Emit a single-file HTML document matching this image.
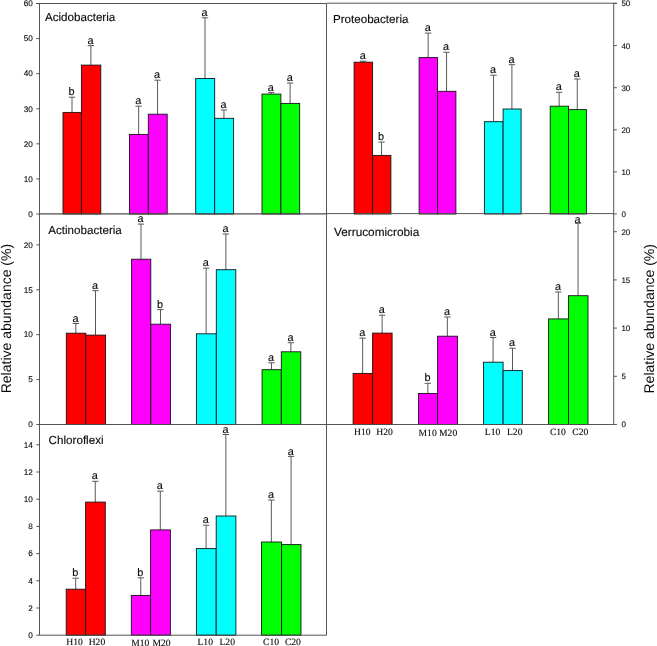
<!DOCTYPE html>
<html><head><meta charset="utf-8"><title>Relative abundance</title>
<style>
html,body{margin:0;padding:0;background:#fff;}
body{width:657px;height:646px;overflow:hidden;}
svg{display:block;will-change:transform;}
text{text-rendering:geometricPrecision;}
text.s{font-family:"Liberation Sans",sans-serif;fill:#0a0a0a;stroke:#0a0a0a;stroke-width:0.12px;}
text.r{font-family:"Liberation Serif",serif;fill:#0a0a0a;stroke:#0a0a0a;stroke-width:0.12px;}
</style></head><body>
<svg width="657" height="646" viewBox="0 0 657 646">
<rect width="657" height="646" fill="#ffffff"/>
<line x1="72.00" y1="112.40" x2="72.00" y2="97.20" stroke="#505050" stroke-width="0.95"/>
<line x1="68.80" y1="97.20" x2="75.20" y2="97.20" stroke="#505050" stroke-width="0.95"/>
<rect x="63.00" y="112.40" width="18.40" height="101.60" fill="#ff0000" stroke="#141014" stroke-width="0.88"/>
<text class="s" x="71.60" y="95.30" font-size="10.9" text-anchor="middle">b</text>
<line x1="90.90" y1="65.10" x2="90.90" y2="45.60" stroke="#505050" stroke-width="0.95"/>
<line x1="87.70" y1="45.60" x2="94.10" y2="45.60" stroke="#505050" stroke-width="0.95"/>
<rect x="81.40" y="65.10" width="19.40" height="148.90" fill="#ff0000" stroke="#141014" stroke-width="0.88"/>
<text class="s" x="90.50" y="43.70" font-size="10.9" text-anchor="middle">a</text>
<line x1="138.65" y1="134.40" x2="138.65" y2="106.20" stroke="#505050" stroke-width="0.95"/>
<line x1="135.45" y1="106.20" x2="141.85" y2="106.20" stroke="#505050" stroke-width="0.95"/>
<rect x="129.40" y="134.40" width="18.90" height="79.60" fill="#ff00ff" stroke="#141014" stroke-width="0.88"/>
<text class="s" x="138.25" y="104.30" font-size="10.9" text-anchor="middle">a</text>
<line x1="157.55" y1="114.20" x2="157.55" y2="80.20" stroke="#505050" stroke-width="0.95"/>
<line x1="154.35" y1="80.20" x2="160.75" y2="80.20" stroke="#505050" stroke-width="0.95"/>
<rect x="148.30" y="114.20" width="18.90" height="99.80" fill="#ff00ff" stroke="#141014" stroke-width="0.88"/>
<text class="s" x="157.15" y="78.30" font-size="10.9" text-anchor="middle">a</text>
<line x1="205.00" y1="78.50" x2="205.00" y2="17.80" stroke="#505050" stroke-width="0.95"/>
<line x1="201.80" y1="17.80" x2="208.20" y2="17.80" stroke="#505050" stroke-width="0.95"/>
<rect x="195.70" y="78.50" width="19.00" height="135.50" fill="#00ffff" stroke="#141014" stroke-width="0.88"/>
<text class="s" x="204.60" y="15.90" font-size="10.9" text-anchor="middle">a</text>
<line x1="223.95" y1="118.30" x2="223.95" y2="110.00" stroke="#505050" stroke-width="0.95"/>
<line x1="220.75" y1="110.00" x2="227.15" y2="110.00" stroke="#505050" stroke-width="0.95"/>
<rect x="214.70" y="118.30" width="18.90" height="95.70" fill="#00ffff" stroke="#141014" stroke-width="0.88"/>
<text class="s" x="223.55" y="108.10" font-size="10.9" text-anchor="middle">a</text>
<line x1="271.25" y1="94.10" x2="271.25" y2="92.60" stroke="#505050" stroke-width="0.95"/>
<line x1="268.05" y1="92.60" x2="274.45" y2="92.60" stroke="#505050" stroke-width="0.95"/>
<rect x="262.00" y="94.10" width="18.90" height="119.90" fill="#00ff00" stroke="#141014" stroke-width="0.88"/>
<text class="s" x="270.85" y="90.70" font-size="10.9" text-anchor="middle">a</text>
<line x1="290.10" y1="103.40" x2="290.10" y2="83.00" stroke="#505050" stroke-width="0.95"/>
<line x1="286.90" y1="83.00" x2="293.30" y2="83.00" stroke="#505050" stroke-width="0.95"/>
<rect x="280.90" y="103.40" width="18.80" height="110.60" fill="#00ff00" stroke="#141014" stroke-width="0.88"/>
<text class="s" x="289.70" y="81.10" font-size="10.9" text-anchor="middle">a</text>
<line x1="363.15" y1="62.20" x2="363.15" y2="61.20" stroke="#505050" stroke-width="0.95"/>
<line x1="359.95" y1="61.20" x2="366.35" y2="61.20" stroke="#505050" stroke-width="0.95"/>
<rect x="354.10" y="62.20" width="18.50" height="151.80" fill="#ff0000" stroke="#141014" stroke-width="0.88"/>
<text class="s" x="362.75" y="59.30" font-size="10.9" text-anchor="middle">a</text>
<line x1="381.55" y1="155.40" x2="381.55" y2="142.10" stroke="#505050" stroke-width="0.95"/>
<line x1="378.35" y1="142.10" x2="384.75" y2="142.10" stroke="#505050" stroke-width="0.95"/>
<rect x="372.60" y="155.40" width="18.30" height="58.60" fill="#ff0000" stroke="#141014" stroke-width="0.88"/>
<text class="s" x="381.15" y="140.20" font-size="10.9" text-anchor="middle">b</text>
<line x1="428.15" y1="57.60" x2="428.15" y2="33.10" stroke="#505050" stroke-width="0.95"/>
<line x1="424.95" y1="33.10" x2="431.35" y2="33.10" stroke="#505050" stroke-width="0.95"/>
<rect x="419.10" y="57.60" width="18.50" height="156.40" fill="#ff00ff" stroke="#141014" stroke-width="0.88"/>
<text class="s" x="427.75" y="31.20" font-size="10.9" text-anchor="middle">a</text>
<line x1="446.55" y1="91.30" x2="446.55" y2="52.30" stroke="#505050" stroke-width="0.95"/>
<line x1="443.35" y1="52.30" x2="449.75" y2="52.30" stroke="#505050" stroke-width="0.95"/>
<rect x="437.60" y="91.30" width="18.30" height="122.70" fill="#ff00ff" stroke="#141014" stroke-width="0.88"/>
<text class="s" x="446.15" y="50.40" font-size="10.9" text-anchor="middle">a</text>
<line x1="493.55" y1="121.70" x2="493.55" y2="75.20" stroke="#505050" stroke-width="0.95"/>
<line x1="490.35" y1="75.20" x2="496.75" y2="75.20" stroke="#505050" stroke-width="0.95"/>
<rect x="484.40" y="121.70" width="18.70" height="92.30" fill="#00ffff" stroke="#141014" stroke-width="0.88"/>
<text class="s" x="493.15" y="73.30" font-size="10.9" text-anchor="middle">a</text>
<line x1="511.90" y1="109.00" x2="511.90" y2="64.70" stroke="#505050" stroke-width="0.95"/>
<line x1="508.70" y1="64.70" x2="515.10" y2="64.70" stroke="#505050" stroke-width="0.95"/>
<rect x="503.10" y="109.00" width="18.00" height="105.00" fill="#00ffff" stroke="#141014" stroke-width="0.88"/>
<text class="s" x="511.50" y="62.80" font-size="10.9" text-anchor="middle">a</text>
<line x1="559.15" y1="106.20" x2="559.15" y2="92.30" stroke="#505050" stroke-width="0.95"/>
<line x1="555.95" y1="92.30" x2="562.35" y2="92.30" stroke="#505050" stroke-width="0.95"/>
<rect x="550.20" y="106.20" width="18.30" height="107.80" fill="#00ff00" stroke="#141014" stroke-width="0.88"/>
<text class="s" x="558.75" y="90.40" font-size="10.9" text-anchor="middle">a</text>
<line x1="577.25" y1="109.60" x2="577.25" y2="79.00" stroke="#505050" stroke-width="0.95"/>
<line x1="574.05" y1="79.00" x2="580.45" y2="79.00" stroke="#505050" stroke-width="0.95"/>
<rect x="568.50" y="109.60" width="17.90" height="104.40" fill="#00ff00" stroke="#141014" stroke-width="0.88"/>
<text class="s" x="576.85" y="77.10" font-size="10.9" text-anchor="middle">a</text>
<line x1="75.85" y1="333.20" x2="75.85" y2="323.50" stroke="#505050" stroke-width="0.95"/>
<line x1="72.65" y1="323.50" x2="79.05" y2="323.50" stroke="#505050" stroke-width="0.95"/>
<rect x="66.30" y="333.20" width="19.50" height="91.30" fill="#ff0000" stroke="#141014" stroke-width="0.88"/>
<text class="s" x="75.45" y="321.60" font-size="10.9" text-anchor="middle">a</text>
<line x1="95.50" y1="335.10" x2="95.50" y2="290.70" stroke="#505050" stroke-width="0.95"/>
<line x1="92.30" y1="290.70" x2="98.70" y2="290.70" stroke="#505050" stroke-width="0.95"/>
<rect x="85.80" y="335.10" width="19.80" height="89.40" fill="#ff0000" stroke="#141014" stroke-width="0.88"/>
<text class="s" x="95.10" y="288.80" font-size="10.9" text-anchor="middle">a</text>
<line x1="141.00" y1="259.20" x2="141.00" y2="224.10" stroke="#505050" stroke-width="0.95"/>
<line x1="137.80" y1="224.10" x2="144.20" y2="224.10" stroke="#505050" stroke-width="0.95"/>
<rect x="131.60" y="259.20" width="19.20" height="165.30" fill="#ff00ff" stroke="#141014" stroke-width="0.88"/>
<text class="s" x="140.60" y="222.20" font-size="10.9" text-anchor="middle">a</text>
<line x1="160.50" y1="324.20" x2="160.50" y2="309.60" stroke="#505050" stroke-width="0.95"/>
<line x1="157.30" y1="309.60" x2="163.70" y2="309.60" stroke="#505050" stroke-width="0.95"/>
<rect x="150.80" y="324.20" width="19.80" height="100.30" fill="#ff00ff" stroke="#141014" stroke-width="0.88"/>
<text class="s" x="160.10" y="307.70" font-size="10.9" text-anchor="middle">b</text>
<line x1="206.15" y1="333.80" x2="206.15" y2="268.10" stroke="#505050" stroke-width="0.95"/>
<line x1="202.95" y1="268.10" x2="209.35" y2="268.10" stroke="#505050" stroke-width="0.95"/>
<rect x="196.40" y="333.80" width="19.90" height="90.70" fill="#00ffff" stroke="#141014" stroke-width="0.88"/>
<text class="s" x="205.75" y="266.20" font-size="10.9" text-anchor="middle">a</text>
<line x1="225.85" y1="269.70" x2="225.85" y2="234.00" stroke="#505050" stroke-width="0.95"/>
<line x1="222.65" y1="234.00" x2="229.05" y2="234.00" stroke="#505050" stroke-width="0.95"/>
<rect x="216.30" y="269.70" width="19.50" height="154.80" fill="#00ffff" stroke="#141014" stroke-width="0.88"/>
<text class="s" x="225.45" y="232.10" font-size="10.9" text-anchor="middle">a</text>
<line x1="271.50" y1="369.70" x2="271.50" y2="362.80" stroke="#505050" stroke-width="0.95"/>
<line x1="268.30" y1="362.80" x2="274.70" y2="362.80" stroke="#505050" stroke-width="0.95"/>
<rect x="262.10" y="369.70" width="19.20" height="54.80" fill="#00ff00" stroke="#141014" stroke-width="0.88"/>
<text class="s" x="271.10" y="360.90" font-size="10.9" text-anchor="middle">a</text>
<line x1="290.85" y1="351.80" x2="290.85" y2="342.70" stroke="#505050" stroke-width="0.95"/>
<line x1="287.65" y1="342.70" x2="294.05" y2="342.70" stroke="#505050" stroke-width="0.95"/>
<rect x="281.30" y="351.80" width="19.50" height="72.70" fill="#00ff00" stroke="#141014" stroke-width="0.88"/>
<text class="s" x="290.45" y="340.80" font-size="10.9" text-anchor="middle">a</text>
<line x1="362.65" y1="373.40" x2="362.65" y2="338.10" stroke="#505050" stroke-width="0.95"/>
<line x1="359.45" y1="338.10" x2="365.85" y2="338.10" stroke="#505050" stroke-width="0.95"/>
<rect x="353.10" y="373.40" width="19.50" height="51.10" fill="#ff0000" stroke="#141014" stroke-width="0.88"/>
<text class="s" x="362.25" y="336.20" font-size="10.9" text-anchor="middle">a</text>
<line x1="382.15" y1="333.10" x2="382.15" y2="315.20" stroke="#505050" stroke-width="0.95"/>
<line x1="378.95" y1="315.20" x2="385.35" y2="315.20" stroke="#505050" stroke-width="0.95"/>
<rect x="372.60" y="333.10" width="19.50" height="91.40" fill="#ff0000" stroke="#141014" stroke-width="0.88"/>
<text class="s" x="381.75" y="313.30" font-size="10.9" text-anchor="middle">a</text>
<line x1="427.85" y1="393.50" x2="427.85" y2="383.30" stroke="#505050" stroke-width="0.95"/>
<line x1="424.65" y1="383.30" x2="431.05" y2="383.30" stroke="#505050" stroke-width="0.95"/>
<rect x="418.50" y="393.50" width="19.10" height="31.00" fill="#ff00ff" stroke="#141014" stroke-width="0.88"/>
<text class="s" x="427.45" y="381.40" font-size="10.9" text-anchor="middle">b</text>
<line x1="447.35" y1="336.20" x2="447.35" y2="317.00" stroke="#505050" stroke-width="0.95"/>
<line x1="444.15" y1="317.00" x2="450.55" y2="317.00" stroke="#505050" stroke-width="0.95"/>
<rect x="437.60" y="336.20" width="19.90" height="88.30" fill="#ff00ff" stroke="#141014" stroke-width="0.88"/>
<text class="s" x="446.95" y="315.10" font-size="10.9" text-anchor="middle">a</text>
<line x1="493.10" y1="362.20" x2="493.10" y2="337.50" stroke="#505050" stroke-width="0.95"/>
<line x1="489.90" y1="337.50" x2="496.30" y2="337.50" stroke="#505050" stroke-width="0.95"/>
<rect x="483.50" y="362.20" width="19.60" height="62.30" fill="#00ffff" stroke="#141014" stroke-width="0.88"/>
<text class="s" x="492.70" y="335.60" font-size="10.9" text-anchor="middle">a</text>
<line x1="512.50" y1="370.60" x2="512.50" y2="348.30" stroke="#505050" stroke-width="0.95"/>
<line x1="509.30" y1="348.30" x2="515.70" y2="348.30" stroke="#505050" stroke-width="0.95"/>
<rect x="503.10" y="370.60" width="19.20" height="53.90" fill="#00ffff" stroke="#141014" stroke-width="0.88"/>
<text class="s" x="512.10" y="346.40" font-size="10.9" text-anchor="middle">a</text>
<line x1="558.35" y1="318.90" x2="558.35" y2="292.00" stroke="#505050" stroke-width="0.95"/>
<line x1="555.15" y1="292.00" x2="561.55" y2="292.00" stroke="#505050" stroke-width="0.95"/>
<rect x="548.60" y="318.90" width="19.90" height="105.60" fill="#00ff00" stroke="#141014" stroke-width="0.88"/>
<text class="s" x="557.95" y="290.10" font-size="10.9" text-anchor="middle">a</text>
<line x1="578.05" y1="295.70" x2="578.05" y2="223.20" stroke="#505050" stroke-width="0.95"/>
<line x1="574.85" y1="223.20" x2="581.25" y2="223.20" stroke="#505050" stroke-width="0.95"/>
<rect x="568.50" y="295.70" width="19.50" height="128.80" fill="#00ff00" stroke="#141014" stroke-width="0.88"/>
<text class="s" x="577.65" y="223.40" font-size="10.9" text-anchor="middle">a</text>
<line x1="75.70" y1="589.20" x2="75.70" y2="578.20" stroke="#505050" stroke-width="0.95"/>
<line x1="72.50" y1="578.20" x2="78.90" y2="578.20" stroke="#505050" stroke-width="0.95"/>
<rect x="66.20" y="589.20" width="19.40" height="46.00" fill="#ff0000" stroke="#141014" stroke-width="0.88"/>
<text class="s" x="75.30" y="576.30" font-size="10.9" text-anchor="middle">b</text>
<line x1="95.25" y1="502.10" x2="95.25" y2="481.30" stroke="#505050" stroke-width="0.95"/>
<line x1="92.05" y1="481.30" x2="98.45" y2="481.30" stroke="#505050" stroke-width="0.95"/>
<rect x="85.60" y="502.10" width="19.70" height="133.10" fill="#ff0000" stroke="#141014" stroke-width="0.88"/>
<text class="s" x="94.85" y="479.40" font-size="10.9" text-anchor="middle">a</text>
<line x1="140.75" y1="595.40" x2="140.75" y2="577.80" stroke="#505050" stroke-width="0.95"/>
<line x1="137.55" y1="577.80" x2="143.95" y2="577.80" stroke="#505050" stroke-width="0.95"/>
<rect x="131.30" y="595.40" width="19.30" height="39.80" fill="#ff00ff" stroke="#141014" stroke-width="0.88"/>
<text class="s" x="140.35" y="575.90" font-size="10.9" text-anchor="middle">b</text>
<line x1="160.30" y1="529.90" x2="160.30" y2="491.20" stroke="#505050" stroke-width="0.95"/>
<line x1="157.10" y1="491.20" x2="163.50" y2="491.20" stroke="#505050" stroke-width="0.95"/>
<rect x="150.60" y="529.90" width="19.80" height="105.30" fill="#ff00ff" stroke="#141014" stroke-width="0.88"/>
<text class="s" x="159.90" y="489.30" font-size="10.9" text-anchor="middle">a</text>
<line x1="206.10" y1="548.60" x2="206.10" y2="525.20" stroke="#505050" stroke-width="0.95"/>
<line x1="202.90" y1="525.20" x2="209.30" y2="525.20" stroke="#505050" stroke-width="0.95"/>
<rect x="196.40" y="548.60" width="19.80" height="86.60" fill="#00ffff" stroke="#141014" stroke-width="0.88"/>
<text class="s" x="205.70" y="523.30" font-size="10.9" text-anchor="middle">a</text>
<line x1="225.85" y1="516.00" x2="225.85" y2="434.50" stroke="#505050" stroke-width="0.95"/>
<line x1="222.65" y1="434.50" x2="229.05" y2="434.50" stroke="#505050" stroke-width="0.95"/>
<rect x="216.20" y="516.00" width="19.70" height="119.20" fill="#00ffff" stroke="#141014" stroke-width="0.88"/>
<text class="s" x="225.45" y="432.60" font-size="10.9" text-anchor="middle">a</text>
<line x1="271.35" y1="542.00" x2="271.35" y2="500.00" stroke="#505050" stroke-width="0.95"/>
<line x1="268.15" y1="500.00" x2="274.55" y2="500.00" stroke="#505050" stroke-width="0.95"/>
<rect x="261.50" y="542.00" width="20.10" height="93.20" fill="#00ff00" stroke="#141014" stroke-width="0.88"/>
<text class="s" x="270.95" y="498.10" font-size="10.9" text-anchor="middle">a</text>
<line x1="291.10" y1="544.60" x2="291.10" y2="456.40" stroke="#505050" stroke-width="0.95"/>
<line x1="287.90" y1="456.40" x2="294.30" y2="456.40" stroke="#505050" stroke-width="0.95"/>
<rect x="281.60" y="544.60" width="19.40" height="90.60" fill="#00ff00" stroke="#141014" stroke-width="0.88"/>
<text class="s" x="290.70" y="454.50" font-size="10.9" text-anchor="middle">a</text>
<line x1="39.50" y1="3.50" x2="39.50" y2="635.20" stroke="#4c4c4c" stroke-width="0.95"/>
<line x1="613.70" y1="3.50" x2="613.70" y2="424.50" stroke="#4c4c4c" stroke-width="0.95"/>
<line x1="326.50" y1="3.50" x2="326.50" y2="635.20" stroke="#4c4c4c" stroke-width="0.95"/>
<line x1="36.00" y1="3.50" x2="326.50" y2="3.50" stroke="#4c4c4c" stroke-width="0.95"/>
<line x1="326.50" y1="3.20" x2="616.90" y2="3.20" stroke="#4c4c4c" stroke-width="0.95"/>
<line x1="39.50" y1="213.90" x2="326.50" y2="213.90" stroke="#4c4c4c" stroke-width="1.2"/>
<line x1="326.50" y1="213.60" x2="613.70" y2="213.60" stroke="#4c4c4c" stroke-width="0.95"/>
<line x1="39.50" y1="424.50" x2="613.70" y2="424.50" stroke="#4c4c4c" stroke-width="0.95"/>
<line x1="39.50" y1="635.20" x2="326.50" y2="635.20" stroke="#4c4c4c" stroke-width="0.95"/>
<line x1="36.30" y1="214.00" x2="39.50" y2="214.00" stroke="#4c4c4c" stroke-width="0.95"/>
<text class="s" x="32.90" y="216.75" font-size="8.2" text-anchor="end">0</text>
<line x1="36.30" y1="178.92" x2="39.50" y2="178.92" stroke="#4c4c4c" stroke-width="0.95"/>
<text class="s" x="32.90" y="181.67" font-size="8.2" text-anchor="end">10</text>
<line x1="36.30" y1="143.83" x2="39.50" y2="143.83" stroke="#4c4c4c" stroke-width="0.95"/>
<text class="s" x="32.90" y="146.58" font-size="8.2" text-anchor="end">20</text>
<line x1="36.30" y1="108.75" x2="39.50" y2="108.75" stroke="#4c4c4c" stroke-width="0.95"/>
<text class="s" x="32.90" y="111.50" font-size="8.2" text-anchor="end">30</text>
<line x1="36.30" y1="73.67" x2="39.50" y2="73.67" stroke="#4c4c4c" stroke-width="0.95"/>
<text class="s" x="32.90" y="76.42" font-size="8.2" text-anchor="end">40</text>
<line x1="36.30" y1="38.58" x2="39.50" y2="38.58" stroke="#4c4c4c" stroke-width="0.95"/>
<text class="s" x="32.90" y="41.33" font-size="8.2" text-anchor="end">50</text>
<line x1="36.30" y1="3.50" x2="39.50" y2="3.50" stroke="#4c4c4c" stroke-width="0.95"/>
<text class="s" x="32.90" y="6.25" font-size="8.2" text-anchor="end">60</text>
<line x1="36.30" y1="424.50" x2="39.50" y2="424.50" stroke="#4c4c4c" stroke-width="0.95"/>
<text class="s" x="32.90" y="427.25" font-size="8.2" text-anchor="end">0</text>
<line x1="36.30" y1="379.60" x2="39.50" y2="379.60" stroke="#4c4c4c" stroke-width="0.95"/>
<text class="s" x="32.90" y="382.35" font-size="8.2" text-anchor="end">5</text>
<line x1="36.30" y1="334.70" x2="39.50" y2="334.70" stroke="#4c4c4c" stroke-width="0.95"/>
<text class="s" x="32.90" y="337.45" font-size="8.2" text-anchor="end">10</text>
<line x1="36.30" y1="289.80" x2="39.50" y2="289.80" stroke="#4c4c4c" stroke-width="0.95"/>
<text class="s" x="32.90" y="292.55" font-size="8.2" text-anchor="end">15</text>
<line x1="36.30" y1="244.90" x2="39.50" y2="244.90" stroke="#4c4c4c" stroke-width="0.95"/>
<text class="s" x="32.90" y="247.65" font-size="8.2" text-anchor="end">20</text>
<line x1="36.30" y1="635.20" x2="39.50" y2="635.20" stroke="#4c4c4c" stroke-width="0.95"/>
<text class="s" x="32.90" y="637.95" font-size="8.2" text-anchor="end">0</text>
<line x1="36.30" y1="608.00" x2="39.50" y2="608.00" stroke="#4c4c4c" stroke-width="0.95"/>
<text class="s" x="32.90" y="610.75" font-size="8.2" text-anchor="end">2</text>
<line x1="36.30" y1="580.80" x2="39.50" y2="580.80" stroke="#4c4c4c" stroke-width="0.95"/>
<text class="s" x="32.90" y="583.55" font-size="8.2" text-anchor="end">4</text>
<line x1="36.30" y1="553.60" x2="39.50" y2="553.60" stroke="#4c4c4c" stroke-width="0.95"/>
<text class="s" x="32.90" y="556.35" font-size="8.2" text-anchor="end">6</text>
<line x1="36.30" y1="526.40" x2="39.50" y2="526.40" stroke="#4c4c4c" stroke-width="0.95"/>
<text class="s" x="32.90" y="529.15" font-size="8.2" text-anchor="end">8</text>
<line x1="36.30" y1="499.20" x2="39.50" y2="499.20" stroke="#4c4c4c" stroke-width="0.95"/>
<text class="s" x="32.90" y="501.95" font-size="8.2" text-anchor="end">10</text>
<line x1="36.30" y1="472.00" x2="39.50" y2="472.00" stroke="#4c4c4c" stroke-width="0.95"/>
<text class="s" x="32.90" y="474.75" font-size="8.2" text-anchor="end">12</text>
<line x1="36.30" y1="444.80" x2="39.50" y2="444.80" stroke="#4c4c4c" stroke-width="0.95"/>
<text class="s" x="32.90" y="447.55" font-size="8.2" text-anchor="end">14</text>
<line x1="613.70" y1="214.00" x2="616.90" y2="214.00" stroke="#4c4c4c" stroke-width="0.95"/>
<text class="s" x="621.40" y="216.90" font-size="8.0" text-anchor="start">0</text>
<line x1="613.70" y1="171.90" x2="616.90" y2="171.90" stroke="#4c4c4c" stroke-width="0.95"/>
<text class="s" x="621.40" y="174.80" font-size="8.0" text-anchor="start">10</text>
<line x1="613.70" y1="129.80" x2="616.90" y2="129.80" stroke="#4c4c4c" stroke-width="0.95"/>
<text class="s" x="621.40" y="132.70" font-size="8.0" text-anchor="start">20</text>
<line x1="613.70" y1="87.70" x2="616.90" y2="87.70" stroke="#4c4c4c" stroke-width="0.95"/>
<text class="s" x="621.40" y="90.60" font-size="8.0" text-anchor="start">30</text>
<line x1="613.70" y1="45.60" x2="616.90" y2="45.60" stroke="#4c4c4c" stroke-width="0.95"/>
<text class="s" x="621.40" y="48.50" font-size="8.0" text-anchor="start">40</text>
<line x1="613.70" y1="3.50" x2="616.90" y2="3.50" stroke="#4c4c4c" stroke-width="0.95"/>
<text class="s" x="621.40" y="6.40" font-size="8.0" text-anchor="start">50</text>
<line x1="613.70" y1="424.50" x2="616.90" y2="424.50" stroke="#4c4c4c" stroke-width="0.95"/>
<text class="s" x="621.40" y="427.40" font-size="8.0" text-anchor="start">0</text>
<line x1="613.70" y1="376.30" x2="616.90" y2="376.30" stroke="#4c4c4c" stroke-width="0.95"/>
<text class="s" x="621.40" y="379.20" font-size="8.0" text-anchor="start">5</text>
<line x1="613.70" y1="328.10" x2="616.90" y2="328.10" stroke="#4c4c4c" stroke-width="0.95"/>
<text class="s" x="621.40" y="331.00" font-size="8.0" text-anchor="start">10</text>
<line x1="613.70" y1="279.90" x2="616.90" y2="279.90" stroke="#4c4c4c" stroke-width="0.95"/>
<text class="s" x="621.40" y="282.80" font-size="8.0" text-anchor="start">15</text>
<line x1="613.70" y1="231.70" x2="616.90" y2="231.70" stroke="#4c4c4c" stroke-width="0.95"/>
<text class="s" x="621.40" y="234.60" font-size="8.0" text-anchor="start">20</text>
<text class="s" x="45.00" y="21.10" font-size="11.6" text-anchor="start">Acidobacteria</text>
<text class="s" x="333.00" y="22.70" font-size="11.6" text-anchor="start">Proteobacteria</text>
<text class="s" x="48.30" y="233.60" font-size="11.6" text-anchor="start">Actinobacteria</text>
<text class="s" x="334.00" y="236.00" font-size="11.8" text-anchor="start">Verrucomicrobia</text>
<text class="s" x="48.60" y="444.40" font-size="11.65" text-anchor="start">Chloroflexi</text>
<text class="s" style="stroke:none" font-size="14" text-anchor="middle" transform="translate(11.3,318.6) rotate(-90)">Relative abundance (%)</text>
<text class="s" style="stroke:none" font-size="14" text-anchor="middle" transform="translate(654.0,318.8) rotate(-90)">Relative abundance (%)</text>
<text class="r" x="354.00" y="435.10" font-size="9.6" text-anchor="start">H10</text>
<text class="r" x="376.30" y="434.70" font-size="9.6" text-anchor="start">H20</text>
<text class="r" x="418.60" y="435.60" font-size="9.6" text-anchor="start">M10</text>
<text class="r" x="439.10" y="435.60" font-size="9.6" text-anchor="start">M20</text>
<text class="r" x="484.80" y="435.10" font-size="9.6" text-anchor="start">L10</text>
<text class="r" x="507.00" y="434.70" font-size="9.6" text-anchor="start">L20</text>
<text class="r" x="549.90" y="434.50" font-size="9.6" text-anchor="start">C10</text>
<text class="r" x="572.30" y="434.70" font-size="9.6" text-anchor="start">C20</text>
<text class="r" x="66.30" y="645.30" font-size="9.6" text-anchor="start">H10</text>
<text class="r" x="88.70" y="644.80" font-size="9.6" text-anchor="start">H20</text>
<text class="r" x="131.30" y="645.60" font-size="9.6" text-anchor="start">M10</text>
<text class="r" x="152.50" y="645.60" font-size="9.6" text-anchor="start">M20</text>
<text class="r" x="197.50" y="645.30" font-size="9.6" text-anchor="start">L10</text>
<text class="r" x="219.50" y="645.00" font-size="9.6" text-anchor="start">L20</text>
<text class="r" x="263.00" y="644.80" font-size="9.6" text-anchor="start">C10</text>
<text class="r" x="284.90" y="645.00" font-size="9.6" text-anchor="start">C20</text>
</svg>
</body></html>
